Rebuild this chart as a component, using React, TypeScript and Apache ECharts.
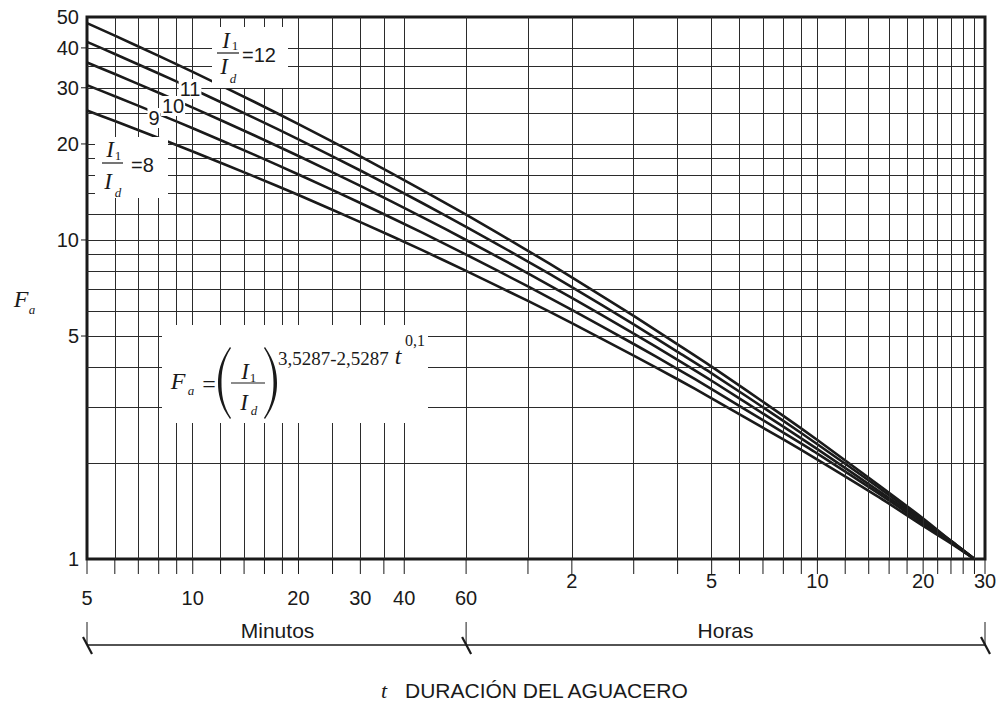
import React, { useEffect, useRef } from 'react';
import * as echarts from 'echarts';

// Durations (minutes) at which the curves were read
const durationsMin = [5, 6, 8, 10, 15, 20, 30, 45, 60, 90, 120, 180, 240, 300, 480, 600, 900, 1200, 1440, 1680];
// Fa for each I1/Id ratio
const fa8 = [25.45, 23.59, 20.88, 18.95, 15.8, 13.83, 11.38, 9.29, 8.0, 6.44, 5.49, 4.34, 3.66, 3.19, 2.37, 2.05, 1.56, 1.27, 1.12, 1.0];
const fa9 = [30.57, 28.22, 24.81, 22.39, 18.48, 16.04, 13.06, 10.54, 9.0, 7.15, 6.04, 4.72, 3.94, 3.41, 2.49, 2.14, 1.6, 1.29, 1.13, 1.0];
const fa10 = [36.01, 33.12, 28.93, 25.99, 21.25, 18.33, 14.77, 11.8, 10.0, 7.86, 6.58, 5.09, 4.21, 3.62, 2.6, 2.21, 1.63, 1.31, 1.13, 1.0];
const fa11 = [41.77, 38.29, 33.26, 29.74, 24.11, 20.67, 16.51, 13.06, 11.0, 8.56, 7.12, 5.44, 4.46, 3.82, 2.71, 2.29, 1.67, 1.32, 1.14, 1.0];
const fa12 = [47.83, 43.7, 37.78, 33.64, 27.07, 23.07, 18.28, 14.34, 12.0, 9.25, 7.64, 5.78, 4.71, 4.01, 2.81, 2.36, 1.7, 1.34, 1.14, 1.0];
const ratioNames = ['8', '9', '10', '11', '12'];

// Grid lines (minutes / Fa)
const xGridMin = [6, 7, 8, 9, 10, 12, 14, 16, 18, 20, 25, 30, 35, 40, 60, 90, 120, 180, 240, 300, 360, 420, 480, 540, 600, 720, 840, 960, 1080, 1200, 1320, 1440, 1560, 1680];
const yGrid = [2, 3, 4, 5, 6, 7, 8, 9, 10, 12, 14, 16, 18, 20, 25, 30, 35, 40];
const xTickMin = [5, 6, 7, 8, 9, 10, 12, 14, 16, 18, 20, 25, 30, 35, 40, 60, 90, 120, 180, 240, 300, 360, 420, 480, 540, 600, 720, 840, 960, 1080, 1200, 1320, 1440, 1560, 1680, 1800];

// Tick labels
const minuteLabelValues = [5, 10, 20, 30, 40, 60];
const minuteLabels = ['5', '10', '20', '30', '40', '60'];
const hourLabelValues = [120, 300, 600, 1200, 1800];
const hourLabels = ['2', '5', '10', '20', '30'];
const yLabelValues = [1, 5, 10, 20, 30, 40, 50];
const yLabels = ['1', '5', '10', '20', '30', '40', '50'];

const SANS = '"Liberation Sans", Arial, Helvetica, sans-serif';
const SERIF = '"Liberation Serif", "Times New Roman", serif';
const INK = '#1a1a1a';

const LPAREN = 'M13 0 C3 14 1 26 1 36 C1 46 3 58 13 72 L14 71 C5.5 58 4.5 46 4.5 36 C4.5 26 5.5 14 14 1 Z';
const RPAREN = 'M1 0 C11 14 13 26 13 36 C13 46 11 58 1 72 L0 71 C8.5 58 9.5 46 9.5 36 C9.5 26 8.5 14 0 1 Z';
echarts.graphic.registerShape('lparen', echarts.graphic.extendPath(LPAREN, {}));
echarts.graphic.registerShape('rparen', echarts.graphic.extendPath(RPAREN, {}));

function txt(x: number, y: number, text: string, size: number, opts: any = {}) {
  return {
    type: 'text',
    x,
    y,
    z: opts.z ?? 20,
    silent: true,
    style: {
      text,
      fontSize: size,
      fontFamily: opts.serif ? SERIF : SANS,
      fontStyle: opts.italic ? 'italic' : 'normal',
      fill: INK,
      align: opts.align ?? 'center',
      verticalAlign: 'middle',
      backgroundColor: opts.bg,
      padding: opts.pad,
    },
  };
}
function seg(x1: number, y1: number, x2: number, y2: number, w: number) {
  return {
    type: 'line',
    z: 20,
    silent: true,
    shape: { x1, y1, x2, y2 },
    style: { stroke: INK, lineWidth: w },
  };
}
function box(x: number, y: number, width: number, height: number) {
  return { type: 'rect', z: 15, silent: true, shape: { x, y, width, height }, style: { fill: '#ffffff' } };
}

export default function App() {
  const ref = useRef<HTMLDivElement>(null);
  useEffect(() => {
    const chart = echarts.init(ref.current as HTMLDivElement, null, { renderer: 'svg' });
    const curves = [fa8, fa9, fa10, fa11, fa12];
    const hidden = {
      axisLine: { show: false },
      axisTick: { show: false },
      axisLabel: { show: false },
      splitLine: { show: false },
      minorTick: { show: false },
      minorSplitLine: { show: false },
    };
    chart.setOption({
      animation: false,
      backgroundColor: '#ffffff',
      grid: { left: 87, right: 16, top: 17, bottom: 143, show: true, borderColor: INK, borderWidth: 3 },
      xAxis: { type: 'log', logBase: 10, min: 5, max: 1800, ...hidden },
      yAxis: { type: 'log', logBase: 10, min: 1, max: 50, ...hidden },
      series: [
        {
          type: 'line',
          data: [[5, 1]],
          symbol: 'none',
          lineStyle: { width: 0 },
          silent: true,
          z: 1,
          markLine: {
            silent: true,
            symbol: ['none', 'none'],
            label: { show: false },
            lineStyle: { color: '#2b2b2b', width: 1, type: 'solid' },
            data: [...xGridMin.map((v) => ({ xAxis: v })), ...yGrid.map((v) => ({ yAxis: v }))],
          },
        },
        ...curves.map((c, k) => ({
          type: 'line',
          name: ratioNames[k],
          data: durationsMin.map((d, i) => [d, c[i]]),
          symbol: 'none',
          smooth: 0.25,
          silent: true,
          z: 3,
          lineStyle: { color: INK, width: 2.6 },
        })),
      ],
    });

    const px = (v: number) => chart.convertToPixel({ xAxisIndex: 0 }, v) as unknown as number;
    const py = (v: number) => chart.convertToPixel({ yAxisIndex: 0 }, v) as unknown as number;
    const yb = py(1);
    const xl = px(5);
    const g: any[] = [];

    // ticks below x axis
    xTickMin.forEach((v) => g.push(seg(px(v), yb, px(v), yb + 15, 1)));
    // y ticks and labels
    yLabelValues.forEach((v, i) => {
      if (v !== 1 && v !== 50) g.push(seg(xl - 6, py(v), xl, py(v), 1));
      g.push(txt(xl - 8, py(v), yLabels[i], 20, { align: 'right' }));
    });
    minuteLabelValues.forEach((v, i) => g.push(txt(px(v), yb + 39, minuteLabels[i], 20)));
    hourLabelValues.forEach((v, i) => g.push(txt(px(v), yb + 22, hourLabels[i], 20)));

    // bracket under the axis
    const yBr = 645;
    g.push(seg(px(5), yBr, px(1800), yBr, 1.3));
    [5, 60, 1800].forEach((v) => {
      const x = px(v);
      g.push(seg(x, 622, x, yBr, 1));
      g.push(seg(x - 4, 637, x + 5, 654, 2.2));
    });
    g.push(txt((px(5) + px(60)) / 2 + 1, 630, 'Minutos', 21));
    g.push(txt((px(60) + px(1800)) / 2, 630, 'Horas', 21));
    g.push(txt(384, 690, 't', 22, { serif: true, italic: true }));
    g.push(txt(405, 690, 'DURACIÓN DEL AGUACERO', 21, { align: 'left' }));

    // y axis title
    g.push(txt(21, 299, 'F', 24, { serif: true, italic: true }));
    g.push(txt(32, 309, 'a', 13, { serif: true, italic: true }));

    // I1/Id = 12 box
    g.push(box(212, 27, 76, 61));
    g.push(txt(226, 40, 'I', 23, { serif: true, italic: true }));
    g.push(txt(235, 45, '1', 13, { serif: true }));
    g.push(seg(217, 53, 239, 53, 1.2));
    g.push(txt(224, 66, 'I', 23, { serif: true, italic: true }));
    g.push(txt(233, 78, 'd', 13, { serif: true, italic: true }));
    g.push(txt(242, 55, '=12', 20, { align: 'left' }));

    // I1/Id = 8 box
    g.push(box(95, 137, 73, 61));
    g.push(txt(110, 149, 'I', 23, { serif: true, italic: true }));
    g.push(txt(118, 155, '1', 13, { serif: true }));
    g.push(seg(102, 163, 123, 163, 1.2));
    g.push(txt(108, 181, 'I', 23, { serif: true, italic: true }));
    g.push(txt(118, 192, 'd', 13, { serif: true, italic: true }));
    g.push(txt(131, 165, '=8', 20, { align: 'left' }));

    // in-line curve labels
    g.push(txt(190, 89, '11', 20, { bg: '#ffffff', pad: [0, 1] }));
    g.push(txt(173, 106, '10', 20, { bg: '#ffffff', pad: [0, 1] }));
    g.push(txt(154, 118, '9', 20, { bg: '#ffffff', pad: [0, 1] }));

    // formula box
    g.push(box(162, 325, 266, 98));
    g.push(txt(178, 381, 'F', 24, { serif: true, italic: true }));
    g.push(txt(191, 390, 'a', 13, { serif: true, italic: true }));
    g.push(txt(209, 384, '=', 24, { serif: true }));
    g.push({ type: 'lparen', x: 217, y: 347, z: 20, silent: true, style: { fill: INK } });
    g.push(txt(245, 371, 'I', 23, { serif: true, italic: true }));
    g.push(txt(253, 377, '1', 13, { serif: true }));
    g.push(seg(231, 383, 265, 383, 1.2));
    g.push(txt(244, 402, 'I', 23, { serif: true, italic: true }));
    g.push(txt(254, 410, 'd', 13, { serif: true, italic: true }));
    g.push({ type: 'rparen', x: 264, y: 347, z: 20, silent: true, style: { fill: INK } });
    g.push(txt(278, 358, '3,5287-2,5287', 19, { serif: true, align: 'left' }));
    g.push(txt(398, 356, 't', 24, { serif: true, italic: true }));
    g.push(txt(405, 340, '0,1', 16, { serif: true, align: 'left' }));

    chart.setOption({ graphic: { elements: g } });
    return () => chart.dispose();
  }, []);
  return (
    <div
      ref={ref}
      style={{ position: 'fixed', left: 0, top: 0, width: 1001, height: 702, background: '#ffffff' }}
    />
  );
}
